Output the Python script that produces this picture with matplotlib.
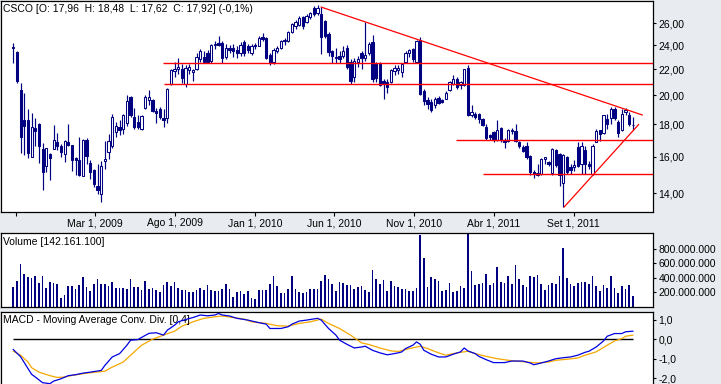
import numpy as np
import pandas as pd
import matplotlib
matplotlib.use("Agg")
import matplotlib.pyplot as plt
import matplotlib.dates as mdates
from matplotlib.ticker import FixedLocator, FuncFormatter, NullLocator

# ---------------- data ----------------
start_date = "2008-09-26"   # weekly candles (Fridays)

opens = [23.75, 23.40, 20.40, 18.30, 18.30, 16.00, 17.76, 18.00, 16.46, 15.45,
         16.15, 16.45, 16.90, 16.60, 16.15, 16.85, 16.67, 15.90, 15.82, 14.90,
         17.00, 15.65, 15.21, 14.35, 13.98, 15.75, 16.25, 16.60, 17.50, 17.85,
         17.70, 18.05, 19.85, 18.45, 18.15, 17.70, 19.10, 19.65, 19.65, 18.90,
         19.00, 18.40, 18.40, 20.85, 21.85, 22.00, 22.00, 20.85, 21.95, 21.80,
         22.00, 22.80, 23.00, 23.30, 22.70, 24.00, 24.20, 24.20, 23.00, 23.80,
         23.75, 23.60, 23.30, 24.30, 23.90, 23.35, 24.00, 23.95, 24.75, 24.60,
         23.15, 22.55, 23.50, 23.80, 24.35, 24.40, 25.20, 25.70, 25.85, 26.60,
         26.15, 26.60, 27.50, 26.95, 26.85, 26.20, 25.00, 23.50, 23.00, 23.05,
         23.05, 23.80, 22.55, 21.35, 22.55, 23.35, 22.95, 23.35, 24.30, 22.50,
         22.50, 21.10, 21.00, 20.97, 21.85, 21.95, 21.75, 22.55, 23.30, 23.70,
         22.55, 24.45, 20.35, 19.65, 19.50, 19.30, 19.80, 19.65, 19.75, 20.40,
         20.85, 21.25, 20.80, 20.80, 22.10, 18.65, 18.70, 18.70, 18.35, 17.85,
         17.30, 17.50, 17.00, 17.75, 17.00, 16.95, 17.55, 17.55, 16.85, 16.55,
         16.65, 16.05, 15.10, 14.95, 15.00, 15.85, 15.70, 15.05, 16.40, 16.15,
         14.55, 16.00, 15.40, 15.40, 16.55, 15.55, 16.40, 15.60, 15.00, 16.90,
         17.60, 17.45, 18.35, 18.40, 19.00, 18.15, 17.65, 18.85, 18.65, 17.96]
highs = [24.20, 23.50, 20.90, 20.20, 19.00, 18.75, 18.40, 18.05, 16.80, 16.50,
         16.20, 17.95, 17.45, 16.78, 17.00, 18.00, 16.70, 16.00, 17.20, 17.05,
         17.10, 15.78, 15.30, 15.55, 15.73, 16.96, 17.40, 18.70, 18.15, 18.30,
         18.70, 20.00, 19.95, 19.10, 18.60, 18.60, 20.05, 20.40, 19.75, 19.10,
         19.15, 19.00, 20.55, 22.05, 22.60, 22.90, 22.40, 22.30, 22.40, 22.00,
         23.30, 23.70, 23.50, 23.60, 24.10, 24.40, 24.85, 24.40, 24.10, 24.00,
         24.10, 23.90, 24.30, 24.50, 24.10, 24.10, 24.20, 24.80, 25.10, 24.70,
         23.30, 23.75, 23.90, 24.50, 24.60, 25.30, 26.00, 26.30, 26.70, 26.70,
         26.90, 27.10, 27.70, 27.80, 27.60, 26.30, 25.20, 23.60, 23.80, 23.50,
         23.90, 24.00, 22.80, 22.90, 23.10, 23.50, 26.10, 24.30, 24.95, 22.60,
         22.60, 21.20, 21.20, 22.00, 22.30, 22.30, 22.50, 23.50, 23.70, 23.80,
         24.50, 24.75, 20.50, 19.85, 19.70, 19.85, 19.95, 19.75, 20.30, 21.10,
         21.50, 21.35, 21.10, 22.05, 22.35, 19.30, 18.85, 18.75, 18.40, 18.00,
         17.40, 17.55, 18.30, 17.80, 17.10, 17.70, 17.75, 18.00, 16.95, 16.70,
         16.85, 16.10, 15.25, 15.60, 15.90, 16.00, 15.75, 16.50, 16.45, 16.20,
         16.15, 16.05, 15.60, 15.80, 16.85, 16.90, 16.60, 15.75, 16.75, 17.70,
         17.65, 18.65, 18.70, 19.20, 19.20, 18.30, 19.00, 19.10, 18.85, 18.48]
lows = [22.50, 20.90, 16.20, 16.10, 15.90, 15.95, 16.60, 15.65, 14.15, 15.15,
        14.67, 16.45, 16.36, 15.95, 15.70, 16.60, 15.17, 14.97, 14.93, 14.90,
        15.60, 14.76, 14.33, 13.98, 13.55, 15.30, 15.87, 16.50, 17.20, 17.30,
        17.40, 17.90, 18.50, 17.70, 17.70, 17.60, 19.00, 19.30, 18.80, 18.10,
        18.35, 17.85, 18.10, 20.75, 21.35, 21.60, 20.90, 20.60, 21.60, 21.10,
        21.90, 22.55, 22.50, 22.50, 22.50, 23.70, 23.90, 22.50, 22.80, 23.30,
        23.00, 22.90, 23.10, 23.10, 23.30, 23.20, 23.70, 23.90, 24.40, 22.80,
        22.30, 22.40, 23.30, 23.70, 24.00, 24.30, 25.10, 25.50, 25.70, 25.50,
        26.00, 26.40, 26.70, 26.80, 23.25, 24.60, 23.10, 22.50, 22.50, 22.50,
        22.90, 22.00, 20.85, 21.00, 22.20, 22.00, 22.70, 23.20, 21.00, 21.00,
        20.70, 19.75, 20.20, 20.90, 21.50, 21.60, 21.40, 22.50, 23.00, 22.60,
        22.50, 20.00, 19.30, 19.00, 18.85, 19.10, 19.35, 19.45, 19.70, 20.30,
        20.80, 20.50, 20.50, 20.70, 18.55, 18.50, 18.35, 18.10, 17.90, 17.00,
        17.00, 16.90, 16.95, 16.90, 16.50, 16.90, 17.40, 16.90, 16.50, 16.25,
        15.85, 14.95, 14.80, 14.90, 14.95, 15.60, 15.45, 14.95, 15.40, 14.35,
        13.30, 15.00, 15.00, 15.20, 15.40, 15.00, 15.00, 15.30, 14.95, 16.85,
        16.95, 17.35, 17.70, 18.00, 18.30, 17.20, 17.55, 18.60, 17.90, 17.62]
closes = [23.85, 21.10, 17.20, 17.90, 16.20, 17.80, 17.55, 16.60, 15.15, 16.50,
          15.90, 17.00, 16.60, 16.25, 16.96, 16.70, 15.78, 15.78, 14.97, 17.00,
          16.04, 15.10, 14.50, 14.15, 15.46, 15.87, 16.96, 18.50, 17.90, 17.60,
          18.60, 19.60, 18.60, 17.85, 17.80, 18.55, 19.85, 19.85, 18.90, 18.75,
          18.45, 18.30, 20.50, 21.90, 22.05, 22.20, 21.30, 22.10, 22.15, 21.90,
          23.00, 23.50, 22.60, 22.60, 24.00, 24.15, 24.05, 22.90, 23.80, 23.60,
          23.50, 23.35, 24.05, 23.35, 23.60, 23.95, 23.90, 24.65, 24.55, 22.95,
          22.55, 23.60, 23.80, 24.40, 24.45, 25.20, 25.90, 26.15, 26.55, 25.75,
          26.70, 26.95, 26.90, 27.50, 24.70, 24.80, 23.40, 23.10, 22.90, 22.80,
          23.50, 22.15, 21.10, 22.65, 22.80, 22.95, 23.20, 24.15, 21.25, 21.30,
          20.80, 20.85, 20.60, 21.90, 22.10, 22.10, 22.45, 23.35, 23.55, 22.80,
          24.40, 20.10, 19.60, 19.35, 18.95, 19.70, 19.45, 19.55, 20.20, 21.00,
          21.25, 20.65, 21.00, 22.00, 18.65, 18.80, 18.50, 18.35, 17.95, 17.10,
          17.20, 17.00, 17.60, 17.00, 16.90, 17.60, 17.65, 16.95, 16.60, 16.35,
          15.95, 15.10, 15.00, 15.05, 15.85, 15.95, 15.60, 16.45, 15.50, 14.97,
          16.10, 15.10, 15.25, 15.50, 15.45, 16.60, 15.60, 15.45, 16.65, 17.55,
          17.40, 18.60, 18.00, 19.05, 18.40, 17.45, 18.70, 18.95, 18.00, 17.92]

volume_millions = [
    270, 353, 584, 445, 408, 400, 418, 325, 418, 252,
    339, 330, 307, 118, 159, 284, 284, 238, 293, 404,
    265, 215, 307, 376, 316, 307, 284, 339, 252, 261,
    261, 247, 376, 270, 270, 228, 358, 247, 261, 233,
    201, 293, 339, 284, 339, 261, 233, 228, 201, 201,
    228, 261, 233, 293, 233, 210, 210, 247, 307, 238,
    127, 201, 220, 169, 220, 113, 100, 233, 233, 228,
    307, 422, 284, 183, 183, 247, 422, 247, 201, 192,
    201, 238, 238, 238, 353, 431, 386, 307, 215, 339,
    321, 293, 293, 238, 275, 284, 224, 201, 501, 376,
    307, 362, 215, 349, 279, 265, 238, 238, 215, 215,
    252, 985, 667, 265, 404, 376, 353, 215, 228, 321,
    201, 215, 279, 256, 999, 487, 297, 311, 321, 445,
    297, 321, 542, 335, 321, 418, 311, 570, 376, 297,
    265, 418, 404, 431, 307, 228, 293, 321, 307, 418,
    805, 390, 307, 279, 321, 335, 335, 307, 418, 279,
    215, 293, 256, 418, 256, 187, 279, 242, 293, 142.1611]

# MACD (blue) and signal (orange) read at candle indices
macd_idx = [0, 2, 4, 5, 6, 8, 10, 11, 13, 15, 17, 19, 21, 24, 25, 27, 29, 31, 32, 34,
            35, 37, 39, 41, 42, 44, 45, 47, 49, 51, 53, 55, 56, 57, 59, 61, 64, 66, 69, 70,
            73, 75, 76, 78, 80, 83, 84, 86, 88, 89, 91, 93, 95, 96, 98, 100, 102, 103, 105, 106,
            107, 109, 110, 111, 112, 114, 116, 118, 120, 122, 123, 124, 126, 127, 129, 131, 134, 136, 137, 139,
            141, 142, 144, 146, 148, 150, 152, 154, 156, 157, 159, 161, 162, 164, 166, 167, 169]
macd_val = [-0.53, -0.90, -1.50, -1.80, -1.94, -2.23, -2.28, -2.15, -2.03, -1.87,
            -1.82, -1.74, -1.69, -1.60, -1.34, -0.91, -0.74, -0.31, -0.05, -0.02,
            0.09, 0.30, 0.33, 0.21, 0.46, 0.72, 0.89, 1.01, 1.11, 1.24,
            1.20, 1.24, 1.32, 1.24, 1.19, 1.07, 0.98, 0.89, 0.77, 0.55,
            0.55, 0.64, 0.77, 0.93, 0.98, 1.07, 0.98, 0.55, 0.21, -0.05,
            -0.26, -0.45, -0.40, -0.36, -0.57, -0.70, -0.80, -0.77, -0.70, -0.65,
            -0.48, -0.31, -0.14, -0.26, -0.57, -0.77, -0.91, -0.91, -0.77, -0.65,
            -0.45, -0.60, -0.74, -0.88, -1.05, -1.20, -1.20, -1.12, -1.12, -1.12,
            -1.22, -1.31, -1.22, -1.12, -1.00, -0.95, -0.91, -0.82, -0.67, -0.62,
            -0.40, -0.09, 0.15, 0.29, 0.29, 0.38, 0.41]
signal_idx = [0, 2, 4, 5, 7, 10, 12, 14, 16, 19, 22, 25, 27, 30, 33, 35, 38, 41, 44, 46,
              49, 52, 55, 57, 60, 63, 65, 69, 72, 75, 78, 81, 84, 86, 89, 92, 95, 97, 100, 103,
              105, 107, 110, 111, 113, 116, 118, 121, 124, 126, 129, 132, 135, 137, 140, 143, 146, 148, 151, 154,
              156, 159, 162, 164, 166, 167, 169]
signal_val = [-0.62, -0.82, -1.17, -1.46, -1.69, -1.87, -1.96, -1.94, -1.86, -1.77,
              -1.70, -1.64, -1.43, -1.17, -0.65, -0.31, 0.00, 0.21, 0.41, 0.67,
              0.89, 1.07, 1.15, 1.19, 1.11, 1.03, 0.89, 0.81, 0.69, 0.67,
              0.81, 0.89, 1.03, 0.81, 0.55, 0.21, -0.19, -0.27, -0.45, -0.60,
              -0.63, -0.53, -0.40, -0.36, -0.48, -0.70, -0.82, -0.70, -0.62, -0.74,
              -0.88, -1.00, -1.08, -1.12, -1.17, -1.22, -1.17, -1.08, -1.03, -0.96,
              -0.82, -0.65, -0.31, -0.09, 0.03, 0.15, 0.21]

# support / resistance lines: level and the date where each one starts
hline_levels = [22.5, 20.87, 17.0, 15.0]
hline_starts = ["2009-07-08", "2009-07-10", "2011-01-20", "2011-03-12"]
# trend lines: (date, price) endpoints
trend_down = [("2010-05-07", 27.58), ("2012-01-10", 18.62)]
trend_up = [("2011-08-14", 13.32), ("2012-01-03", 17.98)]

date_ticks = ["2008-10-01", "2009-03-01", "2009-08-01", "2010-01-01",
              "2010-06-01", "2010-11-01", "2011-04-01", "2011-09-01"]
date_labels = ["", "Mar 1, 2009", "Ago 1, 2009", "Jan 1, 2010",
               "Jun 1, 2010", "Nov 1, 2010", "Abr 1, 2011", "Set 1, 2011"]
price_ticks = [14, 16, 18, 20, 22, 24, 26]
volume_ticks = [200e6, 400e6, 600e6, 800e6]
macd_ticks = [-2.0, -1.0, 0.0, 1.0]

title_main = "CSCO [O: 17,96  H: 18,48  L: 17,62  C: 17,92] (-0,1%)"
title_vol = "Volume [142.161.100]"
title_macd = "MACD - Moving Average Conv. Div. [0,4]"

# ---------------- styling ----------------
NAVY = "#000080"
BG = "#E8ECF0"
FONT = "Liberation Sans"
FS = 7.5
plt.rcParams["font.family"] = [FONT, "DejaVu Sans"]
plt.rcParams["font.size"] = FS

W, H = 721, 384
fig = plt.figure(figsize=(W / 100, H / 100), dpi=100, facecolor=BG)


def rect(left_px, top_px, right_px, bottom_px):
    return [left_px / W, 1 - bottom_px / H, (right_px - left_px) / W, (bottom_px - top_px) / H]


ax = fig.add_axes(rect(0.5, 1, 653, 211.5))
axv = fig.add_axes(rect(0.5, 233.3, 653, 306.5))
axm = fig.add_axes(rect(0.5, 311.7, 653, 386))

dates = pd.date_range(start_date, periods=len(closes), freq="7D")
d = mdates.date2num(dates)
o = np.array(opens)
h = np.array(highs)
l = np.array(lows)
c = np.array(closes)

xl = (d[0] - 24.4, d[0] + 1221.5)

for a in (ax, axv, axm):
    a.set_facecolor("white")
    a.set_xlim(*xl)
    for s in a.spines.values():
        s.set_color("black")
        s.set_linewidth(0.9)
    a.yaxis.tick_right()
    a.tick_params(axis="y", direction="out", length=2.5, width=0.8, pad=1.5,
                  labelsize=FS, colors="black")

# ---- main candle panel ----
ax.set_yscale("log")
ax.set_ylim(13.1, 28.2)
ax.vlines(d, l, h, color=NAVY, lw=0.85, zorder=2)
up = c >= o
body_bottom = np.minimum(o, c)
body_height = np.abs(c - o)
face = np.where(up, "white", NAVY)
ax.bar(d, body_height, bottom=body_bottom, width=4.2, color=face,
       edgecolor=NAVY, linewidth=0.75, zorder=3)

for lev, st in zip(hline_levels, hline_starts):
    ax.hlines(lev, mdates.datestr2num(st), xl[1], color="#FF0000", lw=1.0, zorder=4)
for tl in (trend_down, trend_up):
    xs = [mdates.datestr2num(p[0]) for p in tl]
    ys = [p[1] for p in tl]
    ax.plot(xs, ys, color="#FF0000", lw=0.9, zorder=4)

ax.yaxis.set_major_locator(FixedLocator(price_ticks))
ax.yaxis.set_minor_locator(NullLocator())
ax.yaxis.set_major_formatter(FuncFormatter(lambda v, p: f"{v:.2f}".replace(".", ",")))
ax.xaxis.set_major_locator(FixedLocator(mdates.datestr2num(date_ticks)))
ax.set_xticklabels(date_labels)
ax.xaxis.set_minor_locator(NullLocator())
ax.tick_params(axis="x", direction="out", length=3, width=0.8, pad=2,
               labelsize=FS, colors="black")
ax.text(0.004, 0.988, title_main, transform=ax.transAxes, ha="left", va="top",
        fontsize=FS, color="black")

# ---- volume panel ----
axv.bar(d, np.array(volume_millions) * 1e6, width=3.0, color=NAVY, linewidth=0)
axv.set_ylim(0, 1.012e9)
axv.yaxis.set_major_locator(FixedLocator(volume_ticks))
axv.yaxis.set_major_formatter(FuncFormatter(lambda v, p: f"{v:,.0f}".replace(",", ".")))
axv.set_xticks([])
axv.text(0.004, 0.95, title_vol, transform=axv.transAxes, ha="left", va="top",
         fontsize=FS, color="black")

# ---- MACD panel ----
axm.hlines(0, d[0], d[-1], color="black", lw=1.0, zorder=2)
axm.plot(d[np.array(signal_idx)], signal_val, color="#F5A800", lw=0.9, zorder=3)
axm.plot(d[np.array(macd_idx)], macd_val, color="#0000E0", lw=0.9, zorder=4)
axm.set_ylim(-2.4, 1.41)
axm.yaxis.set_major_locator(FixedLocator(macd_ticks))


def macd_fmt(v, p):
    s = f"{v:.1f}".replace(".", ",")
    return "0,0" if s in ("-0,0",) else s


axm.yaxis.set_major_formatter(FuncFormatter(macd_fmt))
axm.set_xticks([])
axm.text(0.004, 0.95, title_macd, transform=axm.transAxes, ha="left", va="top",
         fontsize=FS, color="black")

fig.savefig("out.png", dpi=100, facecolor=BG)
